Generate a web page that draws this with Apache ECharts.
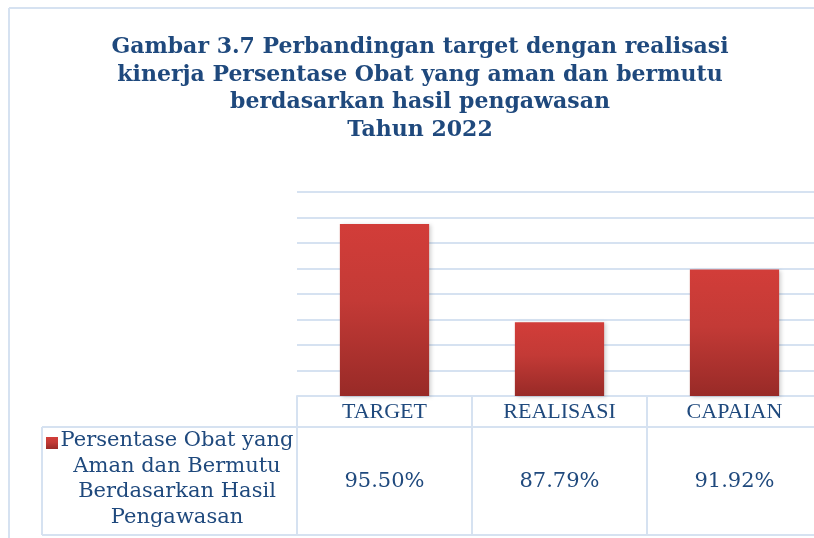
<!DOCTYPE html>
<html lang="id">
  <head>
    <meta charset="UTF-8" />
    <title>Gambar 3.7</title>
    <script src="https://cdn.jsdelivr.net/npm/echarts@6/dist/echarts.min.js"></script>
    <style>
      html, body { margin: 0; padding: 0; background: #fff; }
      #main { width: 814px; height: 538px; }
    </style>
  </head>
  <body>
    <div id="main"></div>
    <script>
      // data
      let categories = ["TARGET", "REALISASI", "CAPAIAN"];
      let values = [95.5, 87.79, 91.92];
      let seriesName = "Persentase Obat yang\nAman dan Bermutu\nBerdasarkan Hasil\nPengawasan";
      let titleText = "Gambar 3.7 Perbandingan target dengan realisasi\nkinerja Persentase Obat yang aman dan bermutu\nberdasarkan hasil pengawasan\nTahun 2022";

      let textColor = "#1f497d";
      let lineColor = "#d6e2f1";
      let barColor = new echarts.graphic.LinearGradient(0, 0, 0, 1, [
        { offset: 0, color: "#d23d39" },
        { offset: 0.45, color: "#c33a36" },
        { offset: 1, color: "#982a27" },
      ]);

      let myChart = echarts.init(document.getElementById("main"));
      let option = {
        animation: false,
        title: {
          text: titleText,
          left: 415,
          top: 29,
          textAlign: "center",
          textStyle: {
            fontFamily: "DejaVu Serif",
            fontWeight: "bold",
            fontSize: 22,
            lineHeight: 27.5,
            color: textColor,
          },
        },
        // plot runs 8px past the right edge, like the cropped original
        grid: { left: 297, width: 525, top: 192, bottom: 142, containLabel: false, outerBoundsMode: "none" },
        xAxis: [
          {
            type: "category",
            data: categories,
            axisLine: { show: true, lineStyle: { color: lineColor, width: 2 } },
            axisTick: { show: true, length: 139, lineStyle: { color: lineColor, width: 2 } },
            axisLabel: {
              margin: 1,
              lineHeight: 30,
              fontFamily: "Liberation Serif",
              fontSize: 22,
              color: textColor,
            },
          },
          {
            type: "category",
            position: "bottom",
            offset: 31,
            data: values.map((v) => v.toFixed(2) + "%"),
            axisLine: { show: true, lineStyle: { color: lineColor, width: 2 } },
            axisTick: { show: false },
            axisLabel: {
              margin: 40,
              lineHeight: 30,
              fontFamily: "DejaVu Serif",
              fontSize: 21,
              color: textColor,
            },
          },
        ],
        yAxis: {
          type: "value",
          min: 82,
          max: 98,
          interval: 2,
          axisLabel: { show: false },
          axisLine: { show: false },
          axisTick: { show: false },
          splitLine: { lineStyle: { color: lineColor, width: 2 } },
        },
        series: [
          {
            name: seriesName,
            type: "bar",
            data: values,
            barWidth: "51%",
            itemStyle: {
              color: barColor,
              shadowColor: "rgba(0,0,0,0.18)",
              shadowBlur: 4,
              shadowOffsetX: 2,
              shadowOffsetY: 1,
            },
          },
        ],
        graphic: [
          // chart frame
          { type: "line", shape: { x1: 9, y1: 8, x2: 814, y2: 8 }, style: { stroke: lineColor, lineWidth: 2 } },
          { type: "line", shape: { x1: 9, y1: 8, x2: 9, y2: 538 }, style: { stroke: lineColor, lineWidth: 2 } },
          // table frame
          { type: "line", shape: { x1: 42, y1: 427, x2: 297, y2: 427 }, style: { stroke: lineColor, lineWidth: 2 } },
          { type: "line", shape: { x1: 42, y1: 535, x2: 814, y2: 535 }, style: { stroke: lineColor, lineWidth: 2 } },
          { type: "line", shape: { x1: 42, y1: 427, x2: 42, y2: 535 }, style: { stroke: lineColor, lineWidth: 2 } },
          // legend key
          { type: "rect", shape: { x: 46, y: 437, width: 12, height: 12 }, style: { fill: barColor } },
          {
            type: "text",
            x: 177,
            y: 428,
            style: {
              text: seriesName,
              align: "center",
              font: "21px 'DejaVu Serif'",
              lineHeight: 25.5,
              fill: textColor,
            },
          },
        ],
      };
      myChart.setOption(option);
    </script>
  </body>
</html>
